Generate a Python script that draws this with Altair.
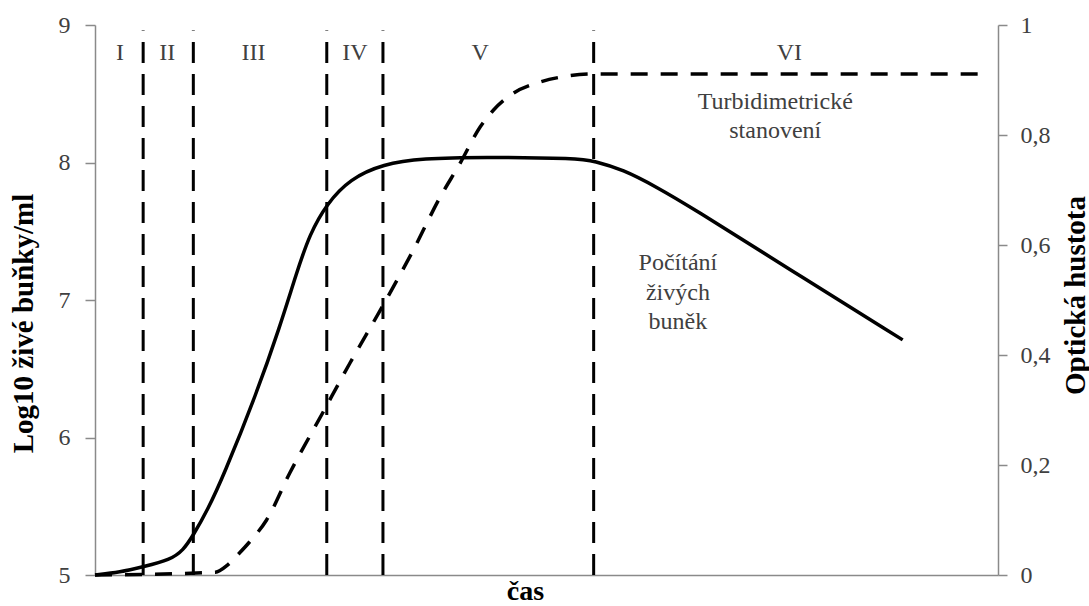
import altair as alt
import pandas as pd

# Growth curve: log10 of viable cells per ml over time (arbitrary time units)
t_cells = [0, 1.25, 2.4, 3.75, 4.4, 4.9, 5.6, 6.4, 8.05, 9.2, 10.05, 10.7, 11.55,
           12.7, 14.35, 16.35, 19.2, 24.15, 24.85, 26.3, 28.0, 29.65, 34.65, 40.25]
log_cells = [5.0, 5.02, 5.06, 5.11, 5.18, 5.29, 5.47, 5.72, 6.32, 6.80, 7.20, 7.48, 7.70,
             7.88, 7.99, 8.03, 8.04, 8.03, 8.01, 7.95, 7.82, 7.68, 7.22, 6.71]

# Optical density (turbidimetry)
t_od = [0, 6.0, 6.6, 7.2, 7.7, 8.55, 9.7, 11.35, 12.7, 14.35, 15.85, 17.2,
        18.2, 19.2, 19.85, 20.85, 22.15, 23.5, 24.85, 44.6]
od = [0, 0.005, 0.018, 0.04, 0.06, 0.10, 0.185, 0.295, 0.385, 0.49, 0.59, 0.687,
      0.749, 0.815, 0.845, 0.876, 0.896, 0.907, 0.911, 0.911]

# Phase boundaries and phase names
phase_bounds = [2.4, 4.9, 11.55, 14.35, 24.85]
phase_names = ["I", "II", "III", "IV", "V", "VI"]
phase_label_t = [1.25, 3.6, 7.9, 12.95, 19.2, 34.6]
phase_label_y = 8.80
bound_bottom = 5.0
bound_top = 8.96

# Curve annotations
notes = ["Turbidimetrické", "stanovení", "Počítání", "živých", "buněk"]
notes_t = [33.9, 33.9, 29.05, 29.05, 29.05]
notes_y = [8.44, 8.23, 7.27, 7.05, 6.84]

FONT = "Liberation Serif"
GRAY = "#8a8a8a"
TXT = "#404040"

cells_df = pd.DataFrame({"t": t_cells, "v": log_cells})
od_df = pd.DataFrame({"t": t_od, "od": od})
bounds_df = pd.DataFrame({"t": phase_bounds,
                          "y1": [bound_bottom] * len(phase_bounds),
                          "y2": [bound_top] * len(phase_bounds)})
phase_df = pd.DataFrame({"t": phase_label_t, "y": [phase_label_y] * len(phase_names),
                         "name": phase_names})
notes_df = pd.DataFrame({"t": notes_t, "y": notes_y, "txt": notes})

x_axis = alt.Axis(labels=False, ticks=False, grid=False, domainColor=GRAY,
                  domainWidth=1.5, title="čas", titleFont=FONT, titleFontSize=28,
                  titleFontWeight="bold", titleColor="black", titleX=430, titleY=16,
                  titleBaseline="middle", titleAlign="center")
X_SCALE = alt.Scale(domain=[0, 45], nice=False, zero=False)

left_axis = alt.Axis(values=[5, 6, 7, 8, 9], tickSize=10, tickColor=GRAY, tickWidth=1.5,
                     domainColor=GRAY, domainWidth=1.5, labelPadding=15, labelFont=FONT,
                     labelFontSize=24, labelColor=TXT, grid=False,
                     titleFont=FONT, titleFontSize=29, titleFontWeight="bold",
                     titleColor="black", titleX=-72, titleY=298, titleAngle=270,
                     titleBaseline="middle", titleAlign="center")
LEFT_SCALE = alt.Scale(domain=[5, 9], nice=False, zero=False)
LEFT_TITLE = "Log10 živé buňky/ml"


def xenc():
    return alt.X("t:Q", scale=X_SCALE, axis=x_axis, title="čas")


def yleft(field):
    return alt.Y(f"{field}:Q", scale=LEFT_SCALE, axis=left_axis, title=LEFT_TITLE)


# phase boundaries
bounds = alt.Chart(bounds_df).mark_rule(color="black", strokeWidth=3,
                                        strokeDash=[21, 11]).encode(
    x=xenc(), y=yleft("y1"), y2="y2:Q")

# viable cell count (solid)
cells = alt.Chart(cells_df).mark_line(color="black", strokeWidth=3.5,
                                      interpolate="basis").encode(
    x=xenc(), y=yleft("v"))

phases = alt.Chart(phase_df).mark_text(font=FONT, fontSize=24, color=TXT,
                                       align="center", baseline="middle").encode(
    x=xenc(), y=yleft("y"), text="name:N")

labels = alt.Chart(notes_df).mark_text(font=FONT, fontSize=24, color=TXT,
                                       align="center", baseline="middle").encode(
    x=xenc(), y=yleft("y"), text="txt:N")

left = alt.layer(bounds, cells, phases, labels)

# optical density (dashed, right axis)
right = alt.Chart(od_df).mark_line(color="black", strokeWidth=3.5, strokeDash=[17, 13],
                                   interpolate="monotone").encode(
    x=xenc(),
    y=alt.Y("od:Q", scale=alt.Scale(domain=[0, 1], nice=False, zero=False),
            title="Optická hustota",
            axis=alt.Axis(orient="right", values=[0, 0.2, 0.4, 0.6, 0.8, 1],
                          labelExpr="replace(format(datum.value, '.1~f'), '.', ',')",
                          tickSize=9, tickColor=GRAY, tickWidth=1.5, domainColor=GRAY,
                          domainWidth=1.5, labelPadding=13, labelFont=FONT,
                          labelFontSize=24, labelColor=TXT, grid=False,
                          titleFont=FONT, titleFontSize=29, titleFontWeight="bold",
                          titleColor="black", titleX=77, titleY=270, titleAngle=270,
                          titleBaseline="middle", titleAlign="center")))

chart = alt.layer(left, right).resolve_scale(y="independent").properties(
    width=903, height=550,
    autosize=alt.AutoSizeParams(type="none"),
    padding={"left": 95, "top": 25, "right": 91, "bottom": 31},
    background="white",
).configure_view(stroke=None)

chart.save("out.html", embed_options={"renderer": "svg", "actions": False})
